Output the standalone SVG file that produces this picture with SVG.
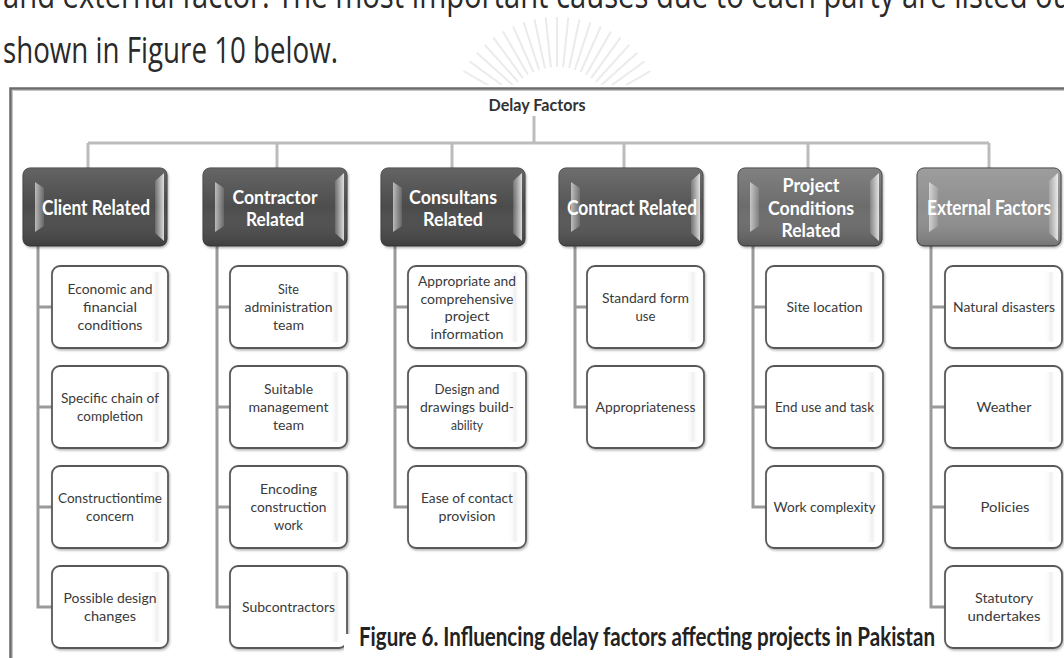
<svg xmlns="http://www.w3.org/2000/svg" width="1064" height="658" viewBox="0 0 1064 658">
  <defs>
    <style>
      .body { font-family: "Open Sans", "DejaVu Sans", sans-serif; font-size: 36px; fill: #2a2a2a; }
      .root { font-family: Lato, "Liberation Sans", sans-serif; font-weight: bold; font-size: 17px; fill: #333; text-anchor: middle; }
      .hdr text { font-family: Lato, "Liberation Sans", sans-serif; font-weight: bold; fill: #fff; text-anchor: middle; }
      .hdr .face { stroke: #3a3a3a; stroke-width: 1; filter: url(#shadow); }
      .leaf rect { fill: #fff; stroke: #595959; stroke-width: 1.8; filter: url(#shadow); }
      .leaf .sheen { fill: url(#sheen); stroke: none; filter: none; }
      .leaf text { font-family: Lato, "Liberation Sans", sans-serif; font-size: 13px; fill: #3a3a3a; text-anchor: middle; }
      .bus { stroke: #bcbcbc; stroke-width: 3; fill: none; }
      .branch { stroke: #9a9a9a; stroke-width: 3; fill: none; }
      .caption { font-family: Lato, "Liberation Sans", sans-serif; font-weight: bold; font-size: 27px; fill: #222; }
      .crest line { stroke: #ebebeb; stroke-width: 2; }
    </style>
    <filter id="shadow" x="-10%" y="-10%" width="130%" height="130%">
      <feDropShadow dx="1" dy="1.5" stdDeviation="1.2" flood-color="#000" flood-opacity="0.3"/>
    </filter>
    <linearGradient id="gloss" x1="0" y1="0" x2="0" y2="1">
      <stop offset="0" stop-color="#fff" stop-opacity="0.14"/>
      <stop offset="0.5" stop-color="#fff" stop-opacity="0"/>
      <stop offset="1" stop-color="#000" stop-opacity="0.18"/>
    </linearGradient>
    <linearGradient id="bevL" x1="0" y1="0" x2="1" y2="0">
      <stop offset="0" stop-color="#fff" stop-opacity="0.6"/>
      <stop offset="1" stop-color="#fff" stop-opacity="0.12"/>
    </linearGradient>
    <linearGradient id="bevR" x1="0" y1="0" x2="1" y2="0">
      <stop offset="0" stop-color="#fff" stop-opacity="0.15"/>
      <stop offset="1" stop-color="#fff" stop-opacity="0.8"/>
    </linearGradient>
    <linearGradient id="sheen" x1="0" y1="0" x2="1" y2="0">
      <stop offset="0" stop-color="#fff" stop-opacity="0"/>
      <stop offset="0.6" stop-color="#e4e4e4" stop-opacity="0.6"/>
      <stop offset="1" stop-color="#fff" stop-opacity="0"/>
    </linearGradient>
    <clipPath id="crestClip"><rect x="400" y="0" width="300" height="85"/></clipPath>
    <!-- glossy header face, shared by the six category boxes -->
    <g id="bevels">
      <rect x="0" y="0" width="144" height="78" rx="7" fill="url(#gloss)"/>
      <polygon points="12,14 21,20 21,58 12,64" fill="url(#bevL)"/>
      <polygon points="132,13 141,5 141,73 132,65" fill="url(#bevR)"/>
    </g>
  </defs>

  <rect width="1064" height="658" fill="#fff"/>

  <!-- faint crest behind the running text -->
  <g class="crest" clip-path="url(#crestClip)">
    <line x1="506.8" y1="96" x2="463.5" y2="71"/>
    <line x1="510.1" y1="90.9" x2="469.6" y2="61.5"/>
    <line x1="513.9" y1="86.2" x2="476.8" y2="52.7"/>
    <line x1="518.2" y1="81.9" x2="484.7" y2="44.8"/>
    <line x1="522.9" y1="78.1" x2="493.5" y2="37.6"/>
    <line x1="528" y1="74.8" x2="503" y2="31.5"/>
    <line x1="533.4" y1="72" x2="513.1" y2="26.3"/>
    <line x1="539.1" y1="69.8" x2="523.6" y2="22.3"/>
    <line x1="544.9" y1="68.3" x2="534.5" y2="19.4"/>
    <line x1="550.9" y1="67.3" x2="545.7" y2="17.5"/>
    <line x1="557" y1="67" x2="557" y2="17"/>
    <line x1="563.1" y1="67.3" x2="568.3" y2="17.5"/>
    <line x1="569.1" y1="68.3" x2="579.5" y2="19.4"/>
    <line x1="574.9" y1="69.8" x2="590.4" y2="22.3"/>
    <line x1="580.6" y1="72" x2="600.9" y2="26.3"/>
    <line x1="586" y1="74.8" x2="611" y2="31.5"/>
    <line x1="591.1" y1="78.1" x2="620.5" y2="37.6"/>
    <line x1="595.8" y1="81.9" x2="629.3" y2="44.8"/>
    <line x1="600.1" y1="86.2" x2="637.2" y2="52.7"/>
    <line x1="603.9" y1="90.9" x2="644.4" y2="61.5"/>
    <line x1="607.2" y1="96" x2="650.5" y2="71"/>
  </g>

  <!-- running text above the figure -->
  <text class="body" x="3" y="8" textLength="1078" lengthAdjust="spacingAndGlyphs">and external factor. The most important causes due to each party are listed out</text>
  <text class="body" x="3" y="63" textLength="335" lengthAdjust="spacingAndGlyphs">shown in Figure 10 below.</text>

  <!-- figure frame -->
  <path d="M10.5,658 V88.5 H1064" fill="none" stroke="#6a6a6a" stroke-width="2.5"/>
  <path d="M12.5,658 V90.5 H1064" fill="none" stroke="#c4c4c4" stroke-width="1"/>

  <!-- connectors -->
  <g id="connectors">
    <path class="bus" d="M534,116 V143"/>
    <path class="bus" d="M88,143 H989"/>
    <path class="bus" d="M88,143 V168 M277,143 V168 M452,143 V168 M624,143 V168 M808,143 V168 M989,143 V168"/>
    <path class="branch" d="M38,246 V607 H52 M38,307 H52 M38,407 H52 M38,507 H52"/>
    <path class="branch" d="M217,246 V607 H230 M217,307 H230 M217,407 H230 M217,507 H230"/>
    <path class="branch" d="M395,246 V507 H408 M395,307 H408 M395,407 H408"/>
    <path class="branch" d="M575,246 V407 H587 M575,307 H587"/>
    <path class="branch" d="M753,246 V507 H766 M753,307 H766 M753,407 H766"/>
    <path class="branch" d="M931,246 V607 H945 M931,307 H945 M931,407 H945 M931,507 H945"/>
  </g>

  <!-- root -->
  <g id="delay-factors">
    <text class="root" x="537" y="111" textLength="97" lengthAdjust="spacingAndGlyphs">Delay Factors</text>
  </g>

  <!-- category headers -->
  <g id="client-related" class="hdr" transform="translate(23,168)">
    <rect class="face" width="144" height="78" rx="7" fill="#4b4b4b"/>
    <use href="#bevels"/>
    <text x="73" y="47" font-size="21" textLength="108" lengthAdjust="spacingAndGlyphs">Client Related</text>
  </g>
  <g id="contractor-related" class="hdr" transform="translate(203,168)">
    <rect class="face" width="144" height="78" rx="7" fill="#4e4e4e"/>
    <use href="#bevels"/>
    <text x="72" y="36" font-size="19" textLength="85" lengthAdjust="spacingAndGlyphs">Contractor</text>
    <text x="72" y="58" font-size="19" textLength="58" lengthAdjust="spacingAndGlyphs">Related</text>
  </g>
  <g id="consultans-related" class="hdr" transform="translate(381,168)">
    <rect class="face" width="144" height="78" rx="7" fill="#4c4c4c"/>
    <use href="#bevels"/>
    <text x="72" y="36" font-size="19" textLength="88" lengthAdjust="spacingAndGlyphs">Consultans</text>
    <text x="72" y="58" font-size="19" textLength="60" lengthAdjust="spacingAndGlyphs">Related</text>
  </g>
  <g id="contract-related" class="hdr" transform="translate(559,168)">
    <rect class="face" width="144" height="78" rx="7" fill="#565656"/>
    <use href="#bevels"/>
    <text x="73" y="47" font-size="21" textLength="130" lengthAdjust="spacingAndGlyphs">Contract Related</text>
  </g>
  <g id="project-conditions-related" class="hdr" transform="translate(738,168)">
    <rect class="face" width="144" height="78" rx="7" fill="#6c6c6c"/>
    <use href="#bevels"/>
    <text x="73" y="24" font-size="19" textLength="57" lengthAdjust="spacingAndGlyphs">Project</text>
    <text x="73" y="47" font-size="19" textLength="86" lengthAdjust="spacingAndGlyphs">Conditions</text>
    <text x="73" y="69" font-size="19" textLength="59" lengthAdjust="spacingAndGlyphs">Related</text>
  </g>
  <g id="external-factors" class="hdr" transform="translate(917,168)">
    <rect class="face" width="144" height="78" rx="7" fill="#8e8e8e"/>
    <use href="#bevels"/>
    <text x="72" y="47" font-size="21" textLength="124" lengthAdjust="spacingAndGlyphs">External Factors</text>
  </g>

  <!-- client related factors -->
  <g id="economic-financial" class="leaf">
    <rect x="52" y="266" width="116" height="82" rx="8"/>
    <rect class="sheen" x="150" y="272" width="12" height="70"/>
    <text x="110" y="293.5" textLength="85" lengthAdjust="spacingAndGlyphs">Economic and</text>
    <text x="110" y="311.5" textLength="54" lengthAdjust="spacingAndGlyphs">financial</text>
    <text x="110" y="329.5" textLength="65" lengthAdjust="spacingAndGlyphs">conditions</text>
  </g>
  <g id="chain-of-completion" class="leaf">
    <rect x="52" y="366" width="116" height="82" rx="8"/>
    <rect class="sheen" x="150" y="372" width="12" height="70"/>
    <text x="110" y="402.5" textLength="98" lengthAdjust="spacingAndGlyphs">Specific chain of</text>
    <text x="110" y="420.5" textLength="66" lengthAdjust="spacingAndGlyphs">completion</text>
  </g>
  <g id="construction-time" class="leaf">
    <rect x="52" y="466" width="116" height="82" rx="8"/>
    <rect class="sheen" x="150" y="472" width="12" height="70"/>
    <text x="110" y="502.5" textLength="104" lengthAdjust="spacingAndGlyphs">Constructiontime</text>
    <text x="110" y="520.5" textLength="48" lengthAdjust="spacingAndGlyphs">concern</text>
  </g>
  <g id="design-changes" class="leaf">
    <rect x="52" y="566" width="116" height="82" rx="8"/>
    <rect class="sheen" x="150" y="572" width="12" height="70"/>
    <text x="110" y="602.5" textLength="93" lengthAdjust="spacingAndGlyphs">Possible design</text>
    <text x="110" y="620.5" textLength="52" lengthAdjust="spacingAndGlyphs">changes</text>
  </g>

  <!-- contractor related factors -->
  <g id="site-administration" class="leaf">
    <rect x="230" y="266" width="117" height="82" rx="8"/>
    <rect class="sheen" x="329" y="272" width="12" height="70"/>
    <text x="288.5" y="293.5" textLength="21" lengthAdjust="spacingAndGlyphs">Site</text>
    <text x="288.5" y="311.5" textLength="88" lengthAdjust="spacingAndGlyphs">administration</text>
    <text x="288.5" y="329.5" textLength="31" lengthAdjust="spacingAndGlyphs">team</text>
  </g>
  <g id="management-team" class="leaf">
    <rect x="230" y="366" width="117" height="82" rx="8"/>
    <rect class="sheen" x="329" y="372" width="12" height="70"/>
    <text x="288.5" y="393.5" textLength="49" lengthAdjust="spacingAndGlyphs">Suitable</text>
    <text x="288.5" y="411.5" textLength="80" lengthAdjust="spacingAndGlyphs">management</text>
    <text x="288.5" y="429.5" textLength="31" lengthAdjust="spacingAndGlyphs">team</text>
  </g>
  <g id="encoding-work" class="leaf">
    <rect x="230" y="466" width="117" height="82" rx="8"/>
    <rect class="sheen" x="329" y="472" width="12" height="70"/>
    <text x="288.5" y="493.5" textLength="57" lengthAdjust="spacingAndGlyphs">Encoding</text>
    <text x="288.5" y="511.5" textLength="76" lengthAdjust="spacingAndGlyphs">construction</text>
    <text x="288.5" y="529.5" textLength="29" lengthAdjust="spacingAndGlyphs">work</text>
  </g>
  <g id="subcontractors" class="leaf">
    <rect x="230" y="566" width="117" height="82" rx="8"/>
    <rect class="sheen" x="329" y="572" width="12" height="70"/>
    <text x="288.5" y="611.5" textLength="93" lengthAdjust="spacingAndGlyphs">Subcontractors</text>
  </g>

  <!-- consultant related factors -->
  <g id="project-information" class="leaf">
    <rect x="408" y="266" width="118" height="82" rx="8"/>
    <rect class="sheen" x="508" y="272" width="12" height="70"/>
    <text x="467" y="286" textLength="98" lengthAdjust="spacingAndGlyphs">Appropriate and</text>
    <text x="467" y="303.5" textLength="93" lengthAdjust="spacingAndGlyphs">comprehensive</text>
    <text x="467" y="321" textLength="45" lengthAdjust="spacingAndGlyphs">project</text>
    <text x="467" y="338.5" textLength="73" lengthAdjust="spacingAndGlyphs">information</text>
  </g>
  <g id="buildability" class="leaf">
    <rect x="408" y="366" width="118" height="82" rx="8"/>
    <rect class="sheen" x="508" y="372" width="12" height="70"/>
    <text x="467" y="393.5" textLength="65" lengthAdjust="spacingAndGlyphs">Design and</text>
    <text x="467" y="411.5" textLength="94" lengthAdjust="spacingAndGlyphs">drawings build-</text>
    <text x="467" y="429.5" textLength="32" lengthAdjust="spacingAndGlyphs">ability</text>
  </g>
  <g id="contact-provision" class="leaf">
    <rect x="408" y="466" width="118" height="82" rx="8"/>
    <rect class="sheen" x="508" y="472" width="12" height="70"/>
    <text x="467" y="502.5" textLength="92" lengthAdjust="spacingAndGlyphs">Ease of contact</text>
    <text x="467" y="520.5" textLength="57" lengthAdjust="spacingAndGlyphs">provision</text>
  </g>

  <!-- contract related factors -->
  <g id="standard-form" class="leaf">
    <rect x="587" y="266" width="117" height="82" rx="8"/>
    <rect class="sheen" x="686" y="272" width="12" height="70"/>
    <text x="645.5" y="302.5" textLength="87" lengthAdjust="spacingAndGlyphs">Standard form</text>
    <text x="645.5" y="320.5" textLength="20" lengthAdjust="spacingAndGlyphs">use</text>
  </g>
  <g id="appropriateness" class="leaf">
    <rect x="587" y="366" width="117" height="82" rx="8"/>
    <rect class="sheen" x="686" y="372" width="12" height="70"/>
    <text x="645.5" y="411.5" textLength="100" lengthAdjust="spacingAndGlyphs">Appropriateness</text>
  </g>

  <!-- project condition factors -->
  <g id="site-location" class="leaf">
    <rect x="766" y="266" width="117" height="82" rx="8"/>
    <rect class="sheen" x="865" y="272" width="12" height="70"/>
    <text x="824.5" y="311.5" textLength="76" lengthAdjust="spacingAndGlyphs">Site location</text>
  </g>
  <g id="end-use" class="leaf">
    <rect x="766" y="366" width="117" height="82" rx="8"/>
    <rect class="sheen" x="865" y="372" width="12" height="70"/>
    <text x="824.5" y="411.5" textLength="99" lengthAdjust="spacingAndGlyphs">End use and task</text>
  </g>
  <g id="work-complexity" class="leaf">
    <rect x="766" y="466" width="117" height="82" rx="8"/>
    <rect class="sheen" x="865" y="472" width="12" height="70"/>
    <text x="824.5" y="511.5" textLength="102" lengthAdjust="spacingAndGlyphs">Work complexity</text>
  </g>

  <!-- external factors -->
  <g id="natural-disasters" class="leaf">
    <rect x="945" y="266" width="117" height="82" rx="8"/>
    <rect class="sheen" x="1044" y="272" width="12" height="70"/>
    <text x="1004" y="311.5" textLength="102" lengthAdjust="spacingAndGlyphs">Natural disasters</text>
  </g>
  <g id="weather" class="leaf">
    <rect x="945" y="366" width="117" height="82" rx="8"/>
    <rect class="sheen" x="1044" y="372" width="12" height="70"/>
    <text x="1004" y="411.5" textLength="55" lengthAdjust="spacingAndGlyphs">Weather</text>
  </g>
  <g id="policies" class="leaf">
    <rect x="945" y="466" width="117" height="82" rx="8"/>
    <rect class="sheen" x="1044" y="472" width="12" height="70"/>
    <text x="1005" y="511.5" textLength="49" lengthAdjust="spacingAndGlyphs">Policies</text>
  </g>
  <g id="statutory-undertakes" class="leaf">
    <rect x="945" y="566" width="117" height="82" rx="8"/>
    <rect class="sheen" x="1044" y="572" width="12" height="70"/>
    <text x="1004" y="602.5" textLength="58" lengthAdjust="spacingAndGlyphs">Statutory</text>
    <text x="1004" y="620.5" textLength="73" lengthAdjust="spacingAndGlyphs">undertakes</text>
  </g>

  <!-- caption on its own white band -->
  <rect x="344" y="634" width="594" height="24" fill="#fff"/>
  <text class="caption" x="359" y="646" textLength="576" lengthAdjust="spacingAndGlyphs">Figure 6. Influencing delay factors affecting projects in Pakistan</text>
</svg>
